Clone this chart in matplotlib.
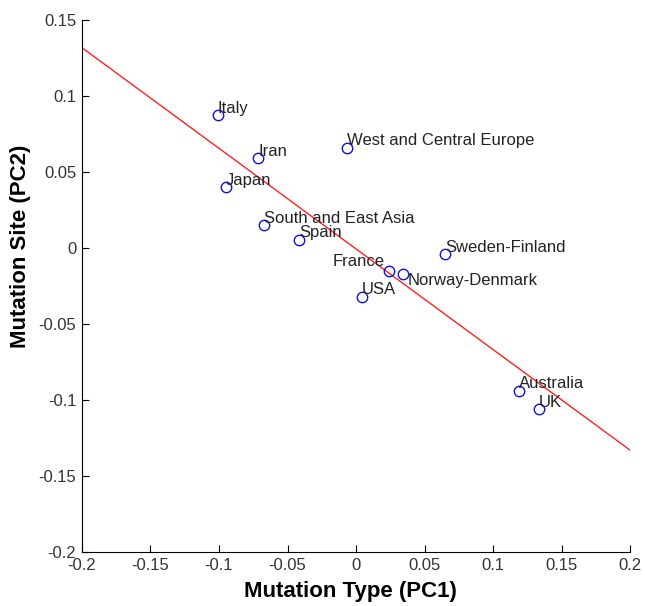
import matplotlib
matplotlib.use("Agg")
import matplotlib.pyplot as plt

plt.rcParams['font.family'] = ['Liberation Sans', 'DejaVu Sans']

regions = ["Italy", "Iran", "Japan", "West and Central Europe", "South and East Asia",
           "Spain", "Sweden-Finland", "France", "Norway-Denmark", "USA", "Australia", "UK"]
pc1 = [-0.101, -0.0715, -0.095, -0.0066, -0.0672, -0.0416, 0.065, 0.024, 0.0343, 0.0044, 0.119, 0.1336]
pc2 = [0.0875, 0.0592, 0.0401, 0.0658, 0.0151, 0.0053, -0.004, -0.0151, -0.0171, -0.0322, -0.094, -0.106]

fit_x = [-0.2, 0.2]
fit_y = [0.1318, -0.1330]

xticks = [-0.2, -0.15, -0.1, -0.05, 0, 0.05, 0.1, 0.15, 0.2]
xticklabels = ["-0.2", "-0.15", "-0.1", "-0.05", "0", "0.05", "0.1", "0.15", "0.2"]
yticks = [-0.2, -0.15, -0.1, -0.05, 0, 0.05, 0.1, 0.15]
yticklabels = ["-0.2", "-0.15", "-0.1", "-0.05", "0", "0.05", "0.1", "0.15"]

fig = plt.figure(figsize=(6.45, 6.06), dpi=100)
ax = fig.add_axes([0.127, 0.089, 0.850, 0.878])

ax.plot(fit_x, fit_y, color='#ff2020', lw=1.0, zorder=1)
ax.plot(pc1, pc2, linestyle='none', marker='o', markersize=7.5, markerfacecolor='none',
        markeredgecolor='#1010e0', markeredgewidth=1.0, zorder=2)

px = 72 / 100.0
offsets = {"France": (-4, 9, 'right'), "Norway-Denmark": (5, -6, 'left')}
for name, x, y in zip(regions, pc1, pc2):
    dx, dy, ha = offsets.get(name, (0, 7, 'left'))
    ax.annotate(name, (x, y), xytext=(dx * px, dy * px), textcoords='offset points',
                ha=ha, va='center', fontsize=12, color='#222222', zorder=3)

ax.set_xlim(-0.2, 0.2)
ax.set_ylim(-0.2, 0.15)
ax.set_xticks(xticks)
ax.set_xticklabels(xticklabels)
ax.set_yticks(yticks)
ax.set_yticklabels(yticklabels)
ax.tick_params(direction='in', length=5, width=0.8, labelsize=12, colors='black', pad=4)
for lbl in ax.get_xticklabels() + ax.get_yticklabels():
    lbl.set_color('#333333')
for s in ['top', 'right']:
    ax.spines[s].set_visible(False)
for s in ['left', 'bottom']:
    ax.spines[s].set_linewidth(0.8)

ax.set_xlabel("Mutation Type (PC1)", fontsize=16, fontweight='bold')
ax.xaxis.set_label_coords(0.49, -0.075)
ax.xaxis.label.set_va('center')
ax.set_ylabel("Mutation Site (PC2)", fontsize=16, fontweight='bold')
ax.yaxis.set_label_coords(-0.112, 0.575)
ax.yaxis.label.set_va('center')

fig.savefig("out.png", dpi=100)
